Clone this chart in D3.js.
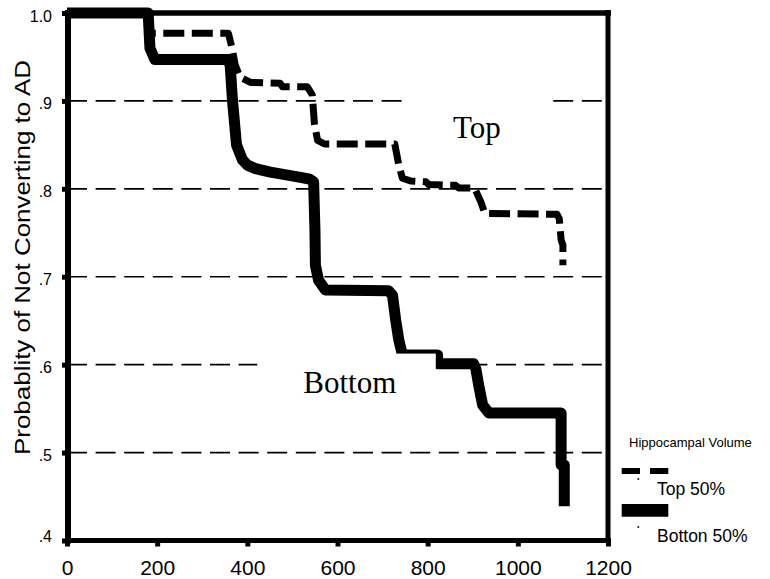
<!DOCTYPE html>
<html>
<head>
<meta charset="utf-8">
<script src="https://cdn.jsdelivr.net/npm/d3@7"></script>
<style>
  body { margin: 0; background: #fff; }
  svg { display: block; }
</style>
</head>
<body>
<svg id="chart" width="770" height="579"></svg>
<script>
// axis ticks
const xTicks = [0, 200, 400, 600, 800, 1000, 1200];
const yTicks = [0.4, 0.5, 0.6, 0.7, 0.8, 0.9, 1.0];
const yTickLabels = ['.4', '.5', '.6', '.7', '.8', '.9', '1.0'];
const gridValues = [0.5, 0.6, 0.7, 0.8, 0.9];

// survival curves (days, probability)
const topDays = [0, 180, 186, 358, 367, 373, 384, 407, 473, 478, 533, 544, 549, 556, 571,
  727, 736, 744, 762, 796, 802, 862, 869, 904, 918, 927, 1087, 1092, 1096, 1100, 1100];
const topSurv = [1.0, 1.0, 0.977, 0.977, 0.958, 0.941, 0.927, 0.921, 0.920, 0.916, 0.916, 0.907, 0.873, 0.855, 0.851,
  0.851, 0.827, 0.812, 0.809, 0.808, 0.805, 0.804, 0.801, 0.801, 0.785, 0.772, 0.771, 0.766, 0.742, 0.736, 0.713];

const bottomDays = [0, 180, 184, 195, 358, 362, 367, 376, 389, 400, 418, 451, 518, 538, 547, 550, 551, 558, 573,
  713, 722, 729, 736, 744, 822, 822, 902, 907, 913, 922, 936, 1096, 1096, 1103, 1103];
const bottomSurv = [1.0, 1.0, 0.96, 0.947, 0.947, 0.94, 0.901, 0.850, 0.833, 0.827, 0.823, 0.819, 0.813, 0.811, 0.808, 0.753, 0.713, 0.696, 0.685,
  0.684, 0.679, 0.651, 0.628, 0.611, 0.611, 0.601, 0.601, 0.595, 0.577, 0.554, 0.545, 0.545, 0.486, 0.486, 0.439];

// in-plot labels (anchor in data units) and the white boxes behind them
const groupLabels = ['Top', 'Bottom'];
const labelDays = [856, 524];
const labelSurv = [0.858, 0.568];
const boxDays = [[744, 1078], [422, 818]];
const boxSurv = [[0.92, 0.845], [0.6126, 0.554]];

const legendTitle = 'Hippocampal Volume';
const legendItems = ['Top 50%', 'Botton 50%'];

const yLabel = 'Probablity of Not Converting to AD';
const gridEnd = 1190;

const sans = '"Liberation Sans", Arial, Helvetica, sans-serif';
const serif = '"Liberation Serif", "Times New Roman", Times, serif';

const svg = d3.select('#chart');

const x = d3.scaleLinear().domain([0, 1200]).range([67, 608]);
const y = d3.scaleLinear().domain([0.4, 1.0]).range([540.5, 13]);

// dashed reference lines
svg.append('g')
  .selectAll('line')
  .data(gridValues)
  .join('line')
  .attr('x1', x(0))
  .attr('x2', x(gridEnd))
  .attr('y1', d => y(d))
  .attr('y2', d => y(d))
  .attr('stroke', '#000')
  .attr('stroke-width', 1.7)
  .attr('stroke-dasharray', '20,8.6');

const line = d3.line()
  .x(d => x(d[0]))
  .y(d => y(d[1]));

const bottomPts = bottomDays.map((d, i) => [d, bottomSurv[i]]);
const topPts = topDays.map((d, i) => [d, topSurv[i]]);

svg.append('path')
  .datum(bottomPts)
  .attr('d', line)
  .attr('fill', 'none')
  .attr('stroke', '#000')
  .attr('stroke-width', 11)
  .attr('stroke-linejoin', 'round');

svg.append('path')
  .datum(topPts)
  .attr('d', line)
  .attr('fill', 'none')
  .attr('stroke', '#000')
  .attr('stroke-width', 7)
  .attr('stroke-dasharray', '21,7.5')
  .attr('stroke-linejoin', 'round');

// white label boxes cover what is under them
svg.append('g')
  .selectAll('rect')
  .data(boxDays)
  .join('rect')
  .attr('x', d => x(d[0]))
  .attr('width', d => x(d[1]) - x(d[0]))
  .attr('y', (d, i) => y(boxSurv[i][0]))
  .attr('height', (d, i) => y(boxSurv[i][1]) - y(boxSurv[i][0]))
  .attr('fill', '#fff');

svg.append('g')
  .selectAll('text')
  .data(groupLabels)
  .join('text')
  .attr('x', (d, i) => x(labelDays[i]))
  .attr('y', (d, i) => y(labelSurv[i]))
  .attr('font-family', serif)
  .attr('font-size', 31)
  .attr('fill', '#000')
  .text(d => d);

// axes
const xAxis = svg.append('g')
  .attr('transform', `translate(0,${y(0.4)})`)
  .call(d3.axisBottom(x).tickValues(xTicks).tickFormat(d3.format('d'))
    .tickSize(6).tickSizeOuter(0).tickPadding(13.5));

const yAxis = svg.append('g')
  .attr('transform', `translate(68,0)`)
  .call(d3.axisLeft(y).tickValues(yTicks).tickSize(6).tickSizeOuter(0).tickPadding(10)
    .tickFormat((d, i) => yTickLabels[i]));

[xAxis, yAxis].forEach(g => {
  g.select('.domain').remove();
  g.selectAll('.tick line').attr('stroke', '#000').attr('stroke-width', 5);
  g.selectAll('.tick text').attr('fill', '#000').attr('font-family', sans);
});
xAxis.selectAll('.tick text').attr('font-size', 21);
yAxis.selectAll('.tick text')
  .attr('font-size', 16)
  .attr('dy', d => d === 0.4 ? '0.05em' : '0.5em');

// plot frame
const frame = svg.append('g').attr('stroke', '#000');
frame.append('line').attr('x1', 68).attr('x2', 68).attr('y1', 10).attr('y2', 543.5).attr('stroke-width', 6);
frame.append('line').attr('x1', 65).attr('x2', 611).attr('y1', y(0.4)).attr('y2', y(0.4)).attr('stroke-width', 5);
frame.append('line').attr('x1', 65).attr('x2', 611).attr('y1', y(1.0)).attr('y2', y(1.0)).attr('stroke-width', 5.5);
frame.append('line').attr('x1', x(1200)).attr('x2', x(1200)).attr('y1', 10).attr('y2', 543).attr('stroke-width', 5);

// y axis title
svg.append('text')
  .attr('transform', 'translate(30,257.5) rotate(-90)')
  .attr('text-anchor', 'middle')
  .attr('font-family', sans)
  .attr('font-size', 22)
  .attr('textLength', 395)
  .attr('lengthAdjust', 'spacingAndGlyphs')
  .attr('fill', '#000')
  .text(yLabel);

// legend
const legend = svg.append('g').attr('font-family', sans).attr('fill', '#000');
legend.append('text')
  .attr('x', 629).attr('y', 446.7)
  .attr('font-size', 13)
  .text(legendTitle);

legend.append('line')
  .attr('x1', 621.7).attr('x2', 668.3)
  .attr('y1', 471).attr('y2', 471)
  .attr('stroke', '#000').attr('stroke-width', 6)
  .attr('stroke-dasharray', '18.3,10');
legend.append('line')
  .attr('x1', 621.7).attr('x2', 668.3)
  .attr('y1', 510.3).attr('y2', 510.3)
  .attr('stroke', '#000').attr('stroke-width', 12.7);

legend.selectAll('circle')
  .data(legendItems)
  .join('circle')
  .attr('cx', 638.3)
  .attr('cy', (d, i) => 479 + i * 48)
  .attr('r', 0.9)
  .attr('fill', '#000');

legend.selectAll('text.item')
  .data(legendItems)
  .join('text')
  .attr('class', 'item')
  .attr('x', 657)
  .attr('y', (d, i) => 495 + i * 46.5)
  .attr('font-size', 17.5)
  .text(d => d);
</script>
</body>
</html>
